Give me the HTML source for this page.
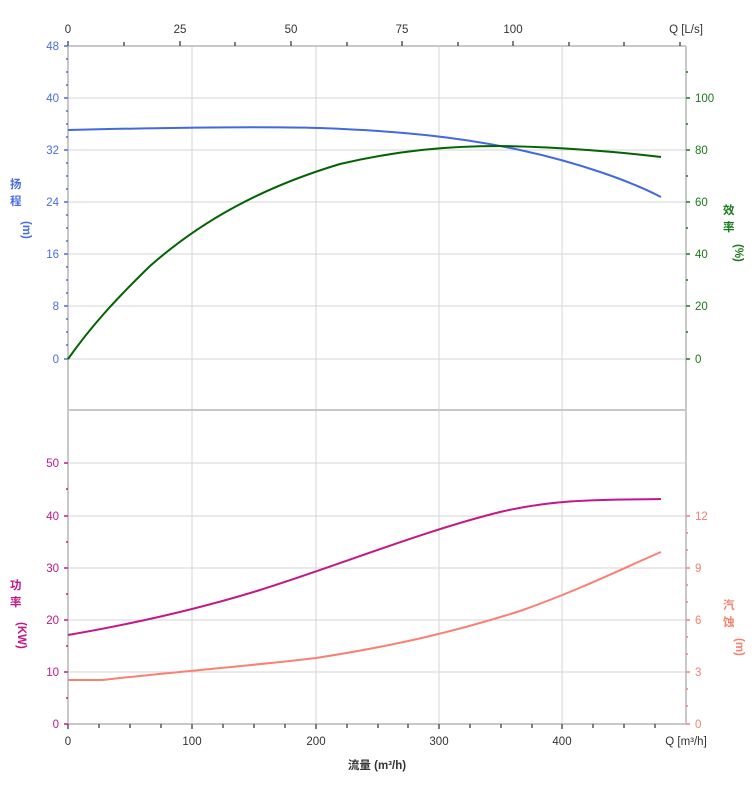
<!DOCTYPE html>
<html><head><meta charset="utf-8"><style>
body{margin:0;background:#fff}
svg text{font-family:"Liberation Sans","Noto Sans CJK SC",sans-serif;font-size:11.5px}
</style></head><body>
<svg width="752" height="797" xmlns="http://www.w3.org/2000/svg">
<g stroke="#d4d4d4" stroke-width="1">
<line x1="192" y1="46" x2="192" y2="724"/><line x1="316" y1="46" x2="316" y2="724"/>
<line x1="439" y1="46" x2="439" y2="724"/><line x1="562" y1="46" x2="562" y2="724"/>
<line x1="68" y1="98" x2="686" y2="98"/><line x1="68" y1="150" x2="686" y2="150"/>
<line x1="68" y1="202" x2="686" y2="202"/><line x1="68" y1="254" x2="686" y2="254"/>
<line x1="68" y1="306" x2="686" y2="306"/><line x1="68" y1="359" x2="686" y2="359"/>
<line x1="68" y1="463" x2="686" y2="463"/><line x1="68" y1="516" x2="686" y2="516"/>
<line x1="68" y1="568" x2="686" y2="568"/><line x1="68" y1="620" x2="686" y2="620"/>
<line x1="68" y1="672" x2="686" y2="672"/>
</g>
<g stroke="#c8c8c8" stroke-width="2">
<line x1="68" y1="46" x2="686" y2="46"/><line x1="68" y1="410" x2="686" y2="410"/>
<line x1="68" y1="724" x2="686" y2="724"/><line x1="686" y1="46" x2="686" y2="724"/>
<line x1="68" y1="46" x2="68" y2="724"/>
</g>
<g stroke="#555" stroke-width="1.5">
<line x1="68" y1="41" x2="68" y2="46"/><line x1="124" y1="42" x2="124" y2="46"/><line x1="180" y1="41" x2="180" y2="46"/><line x1="235" y1="42" x2="235" y2="46"/><line x1="291" y1="41" x2="291" y2="46"/><line x1="347" y1="42" x2="347" y2="46"/><line x1="402" y1="41" x2="402" y2="46"/><line x1="458" y1="42" x2="458" y2="46"/><line x1="513" y1="41" x2="513" y2="46"/><line x1="569" y1="42" x2="569" y2="46"/><line x1="624" y1="42" x2="624" y2="46"/><line x1="680" y1="42" x2="680" y2="46"/>
<line x1="68" y1="724" x2="68" y2="729"/><line x1="99" y1="724" x2="99" y2="728"/><line x1="130" y1="724" x2="130" y2="728"/><line x1="161" y1="724" x2="161" y2="728"/><line x1="192" y1="724" x2="192" y2="729"/><line x1="223" y1="724" x2="223" y2="728"/><line x1="254" y1="724" x2="254" y2="728"/><line x1="285" y1="724" x2="285" y2="728"/><line x1="316" y1="724" x2="316" y2="729"/><line x1="347" y1="724" x2="347" y2="728"/><line x1="378" y1="724" x2="378" y2="728"/><line x1="408" y1="724" x2="408" y2="728"/><line x1="439" y1="724" x2="439" y2="729"/><line x1="470" y1="724" x2="470" y2="728"/><line x1="501" y1="724" x2="501" y2="728"/><line x1="532" y1="724" x2="532" y2="728"/><line x1="562" y1="724" x2="562" y2="729"/><line x1="593" y1="724" x2="593" y2="728"/><line x1="624" y1="724" x2="624" y2="728"/><line x1="655" y1="724" x2="655" y2="728"/>
</g>
<g stroke="#4a6ee0" stroke-width="1.5">
<path d="M64 46h4M66 59h2M66 72h2M66 85h2M64 98h4M66 111h2M66 124h2M66 137h2M64 150h4M66 163h2M66 176h2M66 189h2M64 202h4M66 215h2M66 228h2M66 241h2M64 254h4M66 267h2M66 280h2M66 293h2M64 306h4M66 319h2M66 332h2M66 345h2M64 359h4"/>
</g>
<g stroke="#c2188a" stroke-width="1.5">
<path d="M64 463h4M66 489h2M64 516h4M66 542h2M64 568h4M66 594h2M64 620h4M66 646h2M64 672h4M66 698h2M64 724h4"/>
</g>
<g stroke="#1a7a1a" stroke-width="1.5">
<path d="M686 98h4M686 124h2M686 150h4M686 176h2M686 202h4M686 228h2M686 254h4M686 280h2M686 306h4M686 332h2M686 359h4M686 72h2"/>
</g>
<g stroke="#f58070" stroke-width="1.5">
<path d="M686 516h4M686 533h2M686 550h2M686 568h4M686 585h2M686 602h2M686 620h4M686 637h2M686 654h2M686 672h4M686 689h2M686 706h2M686 724h4"/>
</g>
<g fill="#4a6ee0" text-anchor="end">
<text x="59" y="50">48</text><text x="59" y="102">40</text><text x="59" y="154">32</text><text x="59" y="206">24</text><text x="59" y="258">16</text><text x="59" y="310">8</text><text x="59" y="363">0</text>
</g>
<g fill="#c2188a" text-anchor="end">
<text x="59" y="467">50</text><text x="59" y="520">40</text><text x="59" y="572">30</text><text x="59" y="624">20</text><text x="59" y="676">10</text><text x="59" y="728">0</text>
</g>
<g fill="#1a7a1a">
<text x="695" y="102">100</text><text x="695" y="154">80</text><text x="695" y="206">60</text><text x="695" y="258">40</text><text x="695" y="310">20</text><text x="695" y="363">0</text>
</g>
<g fill="#f58070">
<text x="695" y="520">12</text><text x="695" y="572">9</text><text x="695" y="624">6</text><text x="695" y="676">3</text><text x="695" y="728">0</text>
</g>
<g fill="#333" text-anchor="middle">
<text x="68" y="33">0</text><text x="180" y="33">25</text><text x="291" y="33">50</text><text x="402" y="33">75</text><text x="513" y="33">100</text><text x="686" y="33">Q [L/s]</text>
<text x="68" y="745">0</text><text x="192" y="745">100</text><text x="316" y="745">200</text><text x="439" y="745">300</text><text x="562" y="745">400</text><text x="686" y="745">Q [m³/h]</text>
<text x="377" y="769" font-weight="bold" font-size="12.5">流量 (m³/h)</text>
</g>
<g font-weight="bold" font-size="13">
<text x="10" y="188" fill="#4a6ee0">扬</text><text x="10" y="205" fill="#4a6ee0">程</text>
<text x="12" y="218" fill="#4a6ee0" font-size="11" transform="rotate(90 16 225)">(m)</text>
<text x="10" y="589" fill="#c2188a">功</text><text x="10" y="606" fill="#c2188a">率</text>
<text x="6" y="630" fill="#c2188a" font-size="10" transform="rotate(90 16 632)">(KW)</text>
<text x="723" y="214" fill="#1a7a1a">效</text><text x="723" y="231" fill="#1a7a1a">率</text>
<text x="722" y="245" fill="#1a7a1a" font-size="11" transform="rotate(90 729 251)">(%)</text>
<text x="723" y="609" fill="#f58070">汽</text><text x="723" y="626" fill="#f58070">蚀</text>
<text x="722" y="638" fill="#f58070" font-size="11" transform="rotate(90 729 645)">(m)</text>
</g>
<g fill="none" stroke-width="2">
<path stroke="#4169e1" d="M68 130 C150 128 250 126 320 128 C400 131 460 137 520 150 C580 163 630 181 661 197"/>
<path stroke="#006400" d="M68 359 C90 328 112 303 150 266 C200 222 260 188 340 164 C400 150 450 146 500 146 C560 147 620 152 661 157"/>
<path stroke="#c2188a" d="M68 635 C120 626 192 611 260 590 C340 565 420 532 500 512 C560 498 610 500 661 499"/>
<path stroke="#fa8072" d="M68 680 L103 680 C150 674 250 666 316 658 C400 645 460 630 520 611 C580 590 630 565 661 552"/>
</g>
</svg>
</body></html>
